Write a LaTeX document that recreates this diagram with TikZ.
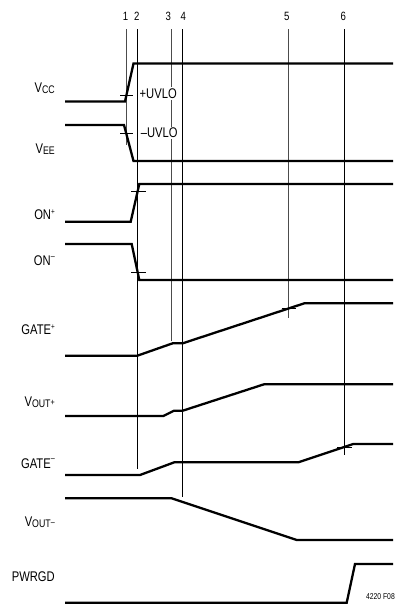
\documentclass[tikz,border=0pt]{standalone}
\usepackage{fontspec}
\setmainfont{Liberation Sans}[FakeStretch=0.8]
\newcommand\mysub[1]{\raisebox{-1.3pt}{\fontsize{11}{11}\selectfont #1}}
\newcommand\mysupp[1]{\raisebox{4.6pt}{\fontsize{8}{8}\selectfont #1}}
\newcommand\mysupm{\raisebox{6.3pt}{\fontsize{9}{9}\selectfont –}}
\begin{document}
\begin{tikzpicture}[x=1pt,y=-1pt,
  wave/.style={line width=2.3pt,line join=miter},
  marker/.style={line width=0.8pt},
  tickmark/.style={line width=0.8pt},
  lbl/.style={anchor=base east,inner sep=0pt,font=\fontsize{14}{14}\selectfont},
  num/.style={anchor=base,inner sep=0pt,font=\fontsize{12}{12}\selectfont},
  uvlo/.style={anchor=base west,fill=white,inner sep=1.2pt,font=\fontsize{14}{14}\selectfont}]
\useasboundingbox (0,0) rectangle (396,606);
% vertical marker lines
\foreach \n/\x/\yb/\c in {1/126.7/145/black!70,2/137.4/469/black,3/171.7/341/black!70,4/182.7/497/black,5/288.3/318/black!70,6/344.3/455/black}{
  \coordinate (t\n) at (\x,29);
  \coordinate (b\n) at (\x,\yb);
  \draw[marker,draw=\c] (t\n) -- (b\n);
}
\node[num] (n1) at (125.5,20) {1};
\node[num] (n2) at (136.7,20) {2};
\node[num] (n3) at (168.3,20) {3};
\node[num] (n4) at (183.3,20) {4};
\node[num] (n5) at (286.7,20) {5};
\node[num] (n6) at (343.3,20) {6};
% UVLO labels
\node[uvlo] (puv) at (138.3,98.3) {+UVLO};
\node[uvlo] (muv) at (139.5,137.5) {–UVLO};
% signal labels
\node[lbl] (lvcc) at (55,92) {V\mysub{CC}};
\node[lbl] (lvee) at (55,153) {V\mysub{EE}};
\node[lbl] (lonp) at (55,219.3) {ON\mysupp{+}};
\node[lbl] (lonm) at (55,265.5) {ON\mysupm};
\node[lbl] (lgp) at (55,334) {GATE\mysupp{+}};
\node[lbl] (lvop) at (55,406.5) {V\mysub{OUT}\raisebox{1.2pt}{\fontsize{9}{9}\selectfont +}};
\node[lbl] (lgm) at (55,468) {GATE\mysupm};
\node[lbl] (lvom) at (55,526) {V\mysub{OUT}\raisebox{0.3pt}{\fontsize{9}{9}\selectfont –}};
\node[lbl] (lpg) at (55,581.7) {PWRGD};
\node[anchor=base east,inner sep=0pt,font=\fontsize{8.5}{8.5}\selectfont] (fig) at (395,599.3) {4220 F08};
% waveforms
\draw[wave] (65,101.5) -- (125,101.5) -- (133.5,63.5) -- (393,63.5);
\draw[wave] (65,125) -- (124,125) -- (133.5,161) -- (393,161);
\draw[wave] (65,221.7) -- (130.7,221.7) -- (139.3,184) -- (393,184);
\draw[wave] (65,244) -- (131.7,244) -- (139.3,280) -- (393,280);
\draw[wave] (65,355.7) -- (137.3,355.7) -- (172.7,343.3) -- (182.7,343.3) -- (304.3,303.3) -- (393,303.3);
\draw[wave] (65,416) -- (163.3,416) -- (174,410.7) -- (182.7,410.7) -- (264,384.3) -- (393,384.3);
\draw[wave] (65,475) -- (140,475) -- (174.3,462.3) -- (298.3,462.3) -- (353.3,444) -- (393,444);
\draw[wave] (65,498.3) -- (171.7,498.3) -- (296.7,540) -- (393,540);
\draw[wave] (65,602.7) -- (346.7,602.7) -- (355,564) -- (393,564);
% threshold ticks
\draw[tickmark] (120,95) -- (133,95);
\draw[tickmark] (120,133) -- (133,133);
\draw[tickmark] (131,191) -- (146,191);
\draw[tickmark] (131,272.7) -- (146,272.7);
\draw[tickmark] (281.5,308.5) -- (296,308.5);
\draw[tickmark] (337,447) -- (351.5,447);
\end{tikzpicture}
\end{document}
